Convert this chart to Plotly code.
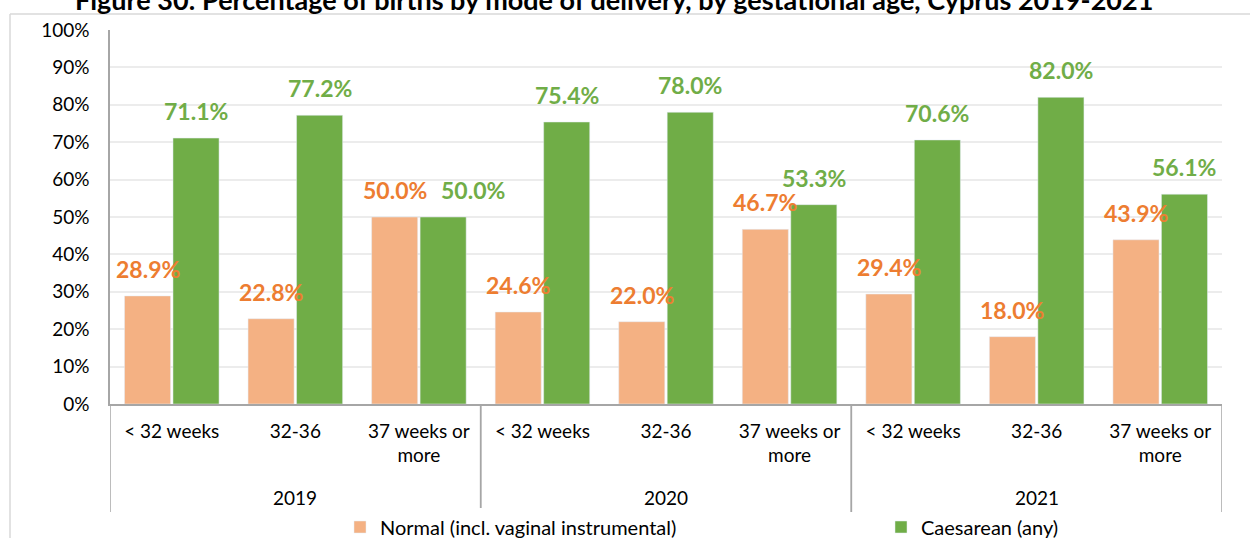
import plotly.graph_objects as go

years = ["2019", "2019", "2019", "2020", "2020", "2020", "2021", "2021", "2021"]
ages = ["< 32 weeks", "32-36", "37 weeks or<br>more"] * 3
normal = [28.9, 22.8, 50.0, 24.6, 22.0, 46.7, 29.4, 18.0, 43.9]
caesarean = [71.1, 77.2, 50.0, 75.4, 78.0, 53.3, 70.6, 82.0, 56.1]
yticks = [0, 10, 20, 30, 40, 50, 60, 70, 80, 90, 100]
title_text = "Figure 30: Percentage of births by mode of delivery, by gestational age, Cyprus 2019-2021"

FONT = "Lato"
C_NORMAL = "#F4B183"
C_CAES = "#70AD47"
L_NORMAL = "#ED7D31"
L_CAES = "#70AD47"
AXIS_C = "#a6a6a6"

keys = [f"{y} {a}" for y, a in zip(years, ages)]

fig = go.Figure()
fig.add_trace(go.Bar(x=keys, y=normal, name="Normal (incl. vaginal instrumental)",
                     marker_color=C_NORMAL, legend="legend"))
fig.add_trace(go.Bar(x=keys, y=caesarean, name="Caesarean (any)",
                     marker_color=C_CAES, legend="legend2"))

L, R, T, B = 110, 28, 30, 134
W, H = 1250, 538
pw = W - L - R
ph = H - T - B

def px_x(p):
    return (p - L) / pw

def px_y(p):
    return 1 - (p - T) / ph

bargap = 0.215
groupgap = 0.05
slot = (1 - bargap) / 2
anns = []
for i, (n, c) in enumerate(zip(normal, caesarean)):
    # avoid overlapping labels when both values are nearly equal
    shift = 30 if abs(n - c) < 4 else 0
    anns.append(dict(x=i - slot / 2, y=n, xref="x", yref="y", text=f"<b>{n:.1f}%</b>",
                     showarrow=False, yanchor="middle", yshift=27,
                     font=dict(family=FONT, size=23, color=L_NORMAL)))
    anns.append(dict(x=i + slot / 2, y=c, xref="x", yref="y", text=f"<b>{c:.1f}%</b>",
                     showarrow=False, yanchor="middle", yshift=27, xshift=shift,
                     font=dict(family=FONT, size=23, color=L_CAES)))

# year group labels and dividers
groups = []
for i, y in enumerate(years):
    if not groups or groups[-1][0] != y:
        groups.append([y, i, i])
    else:
        groups[-1][2] = i

shapes = []
for g, i0, i1 in groups:
    anns.append(dict(x=(i0 + i1) / 2, y=px_y(497), xref="x", yref="paper", text=g,
                     showarrow=False, yanchor="middle",
                     font=dict(family=FONT, size=19, color="#000000")))
    for xb in (i0 - 0.5, i1 + 0.5):
        shapes.append(dict(type="line", xref="x", yref="paper", x0=xb, x1=xb,
                           y0=0, y1=px_y(512), line=dict(color=AXIS_C, width=1.5)))

anns.append(dict(x=px_x(614), y=px_y(0), xref="paper", yref="paper",
                 text=f"<b>{title_text}</b>", showarrow=False, yanchor="middle",
                 font=dict(family=FONT, size=27, color="#000000")))

shapes += [
    dict(type="line", xref="paper", yref="paper", x0=px_x(10), x1=px_x(1260),
         y0=px_y(14), y1=px_y(14), line=dict(color="#d9d9d9", width=1.5)),
    dict(type="line", xref="paper", yref="paper", x0=px_x(10), x1=px_x(10),
         y0=px_y(14), y1=px_y(548), line=dict(color="#d9d9d9", width=1.5)),
]

fig.update_layout(
    width=W, height=H,
    margin=dict(l=L, r=R, t=T, b=B, autoexpand=False),
    paper_bgcolor="white", plot_bgcolor="white",
    barmode="group", bargap=bargap, bargroupgap=groupgap,
    font=dict(family=FONT, size=19, color="#000000"),
    showlegend=True,
    legend=dict(orientation="h", x=px_x(340), xanchor="left",
                y=px_y(527), yanchor="middle", font=dict(family=FONT, size=20)),
    legend2=dict(orientation="h", x=px_x(881), xanchor="left",
                 y=px_y(527), yanchor="middle", font=dict(family=FONT, size=20)),
    annotations=anns,
    shapes=shapes,
    xaxis=dict(type="category", tickvals=keys, ticktext=ages,
               showline=True, linecolor=AXIS_C, linewidth=1.5,
               tickfont=dict(family=FONT, size=19), ticks="", ticklabelstandoff=9,
               range=[-0.5, len(keys) - 0.5]),
    yaxis=dict(range=[0, 100], tickvals=yticks, ticktext=[f"{v}%" for v in yticks],
               showgrid=True, gridcolor="#ececec", gridwidth=1.5,
               showline=True, linecolor=AXIS_C, linewidth=1.5,
               ticks="", ticklabelstandoff=15, tickfont=dict(family=FONT, size=19),
               zeroline=False),
)

fig.write_html("out.html", config={"displayModeBar": False},
               post_script="document.body.style.margin='0';")
